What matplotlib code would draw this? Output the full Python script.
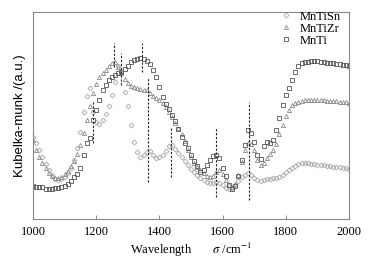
import matplotlib
matplotlib.use('Agg')
import matplotlib.pyplot as plt

# wavenumber axis (cm-1), one point every 10
sigma = list(range(1000, 2001, 10))

# Kubelka-munk values (a.u.)
mntisn = [137, 143, 150, 157, 164, 170, 175, 179, 180, 179,
          177, 173, 168, 160, 148, 132, 112, 96, 88, 112,
          122, 124, 120, 114, 106, 95, 82, 66, 72, 92,
          106, 125, 142, 152, 157, 155, 152, 151, 155, 158,
          157, 155, 151, 146, 145, 149, 153, 157, 161, 165,
          169, 172, 175, 178, 180, 182, 183, 183, 182, 183,
          185, 188, 189, 188, 185, 181, 177, 175, 173, 175,
          178, 180, 181, 180, 179, 179, 178, 178, 177, 175,
          172, 170, 168, 166, 164, 163, 163, 163, 164, 164,
          165, 165, 165, 166, 166, 167, 167, 167, 168, 168,
          169]
mntizr = [140, 150, 157, 163, 168, 173, 176, 178, 178, 177,
          174, 171, 166, 161, 154, 145, 133, 120, 106, 93,
          84, 77, 73, 70, 66, 63, 62, 67, 73, 79,
          83, 86, 87, 88, 89, 90, 90, 93, 96, 98,
          100, 103, 107, 112, 117, 123, 128, 134, 141, 150,
          157, 163, 167, 170, 173, 176, 177, 176, 172, 170,
          174, 180, 185, 187, 184, 175, 162, 150, 143, 144,
          150, 160, 165, 163, 158, 154, 150, 144, 134, 125,
          116, 110, 105, 103, 102, 101, 100, 100, 100, 100,
          100, 100, 100, 101, 101, 101, 101, 102, 102, 102,
          103]
mnti = [186, 187, 187, 187, 189, 189, 189, 188, 188, 187,
        186, 184, 181, 177, 174, 168, 155, 143, 138, 120,
        110, 100, 90, 85, 80, 77, 75, 73, 72, 69,
        66, 62, 60, 59, 58, 59, 61, 64, 70, 77,
        87, 97, 104, 109, 115, 121, 129, 137, 143, 148,
        155, 161, 166, 172, 170, 165, 160, 156, 155, 158,
        168, 176, 185, 189, 186, 176, 160, 145, 130, 133,
        142, 155, 159, 146, 142, 143, 140, 130, 118, 105,
        95, 88, 80, 72, 66, 63, 62, 62, 61, 61,
        61, 62, 62, 63, 63, 63, 64, 64, 65, 65,
        66]

# dashed marker lines: position, lower and upper end (pixel rows from top)
peak_pos = [1190, 1256, 1278, 1345, 1364, 1437, 1579, 1684]
peak_top = [102, 43, 53, 43, 78, 127, 127, 102]
peak_bot = [143, 67, 85, 72, 182, 177, 197, 200]

ALTO = 219  # bottom row of the axes in the reference, used to flip rows

plt.rcParams['font.family'] = ['Liberation Serif', 'DejaVu Serif']
plt.rcParams['mathtext.fontset'] = 'stix'

fig = plt.figure(figsize=(3.78, 2.62), dpi=100)
ax = fig.add_axes([0.0873, 0.164, 0.836, 0.79])

flip = lambda v: [ALTO - p for p in v]

ax.plot(sigma, flip(mntisn), linestyle='none', marker='D', markersize=2.5,
        markerfacecolor='none', markeredgecolor='#a8a8a8', markeredgewidth=0.6,
        label='MnTiSn')
ax.plot(sigma, flip(mntizr), linestyle='none', marker='^', markersize=3.0,
        markerfacecolor='none', markeredgecolor='#8a8a8a', markeredgewidth=0.6,
        label='MnTiZr')
ax.plot(sigma, flip(mnti), linestyle='none', marker='s', markersize=3.3,
        markerfacecolor='none', markeredgecolor='#555555', markeredgewidth=0.6,
        label='MnTi')

# lineas discontinuas verticales
for x, t, b in zip(peak_pos, peak_top, peak_bot):
    ax.plot([x, x], [ALTO - b, ALTO - t], linestyle=(0, (2.0, 1.5)),
            color='#222222', linewidth=0.8)

ax.set_xlim(1000, 2000)
ax.set_ylim(0, 207)
ax.set_xticks([1000, 1200, 1400, 1600, 1800, 2000])
ax.set_yticks([])
ax.tick_params(axis='x', direction='in', length=3, width=0.6,
               color='#777777', labelsize=9, pad=5)
for s in ax.spines.values():
    s.set_color('#888888')
    s.set_linewidth(0.8)

ax.set_ylabel('Kubelka-munk /(a.u.)', family=['Liberation Sans', 'DejaVu Sans'],
              fontsize=9.5, labelpad=5)
ax.set_xlabel('Wavelength       $\\it{\\sigma}$ /cm$^{-1}$', fontsize=9, labelpad=2)

ax.legend(loc='upper right', bbox_to_anchor=(0.99, 1.03), frameon=False,
          fontsize=9, handlelength=1.0, handletextpad=0.6, labelspacing=0.0,
          borderaxespad=0.0, markerscale=1.0)

fig.savefig('out.png', dpi=100)
plt.close()
